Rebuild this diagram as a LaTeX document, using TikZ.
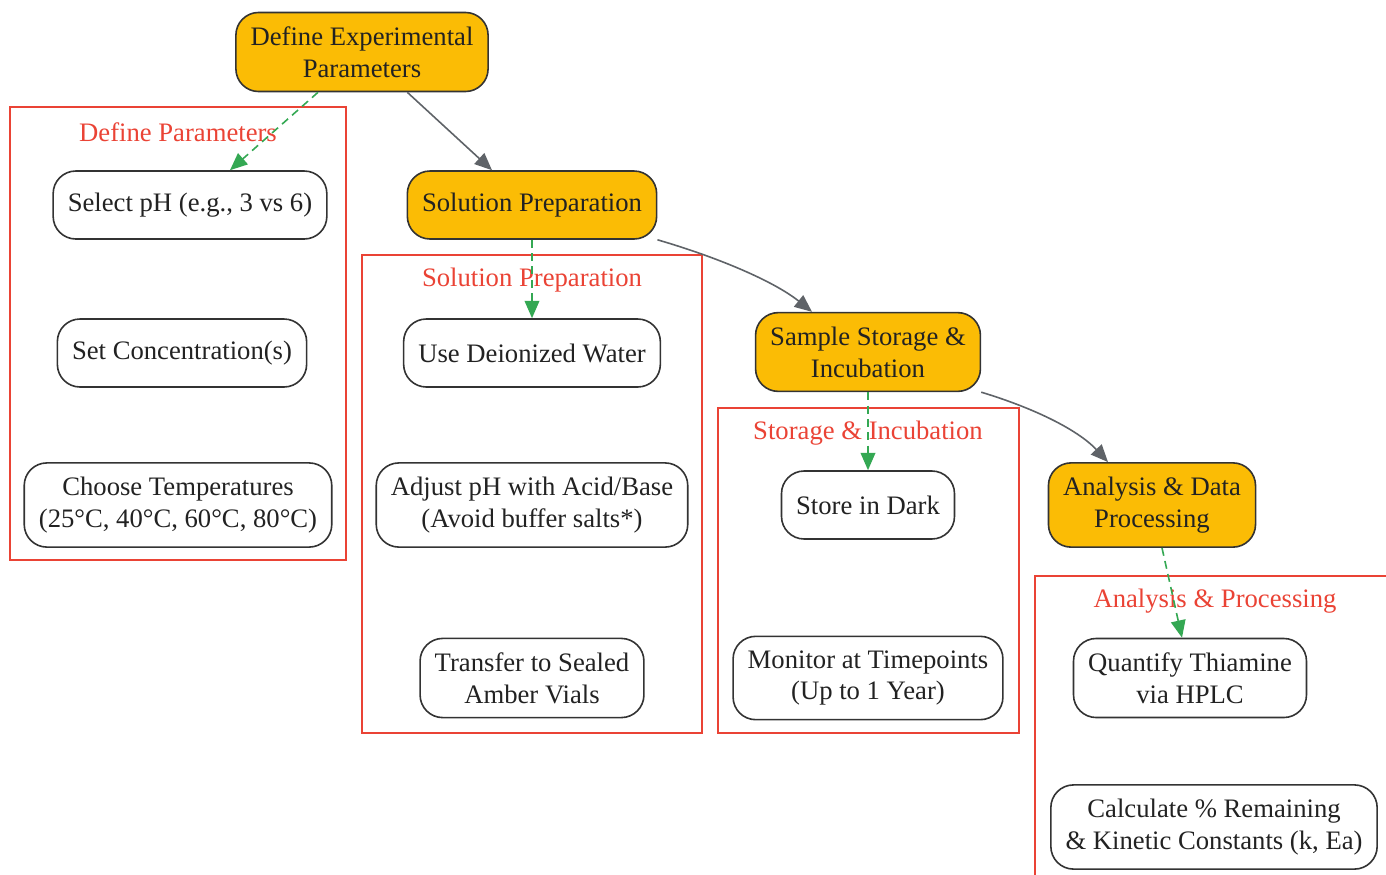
\documentclass[tikz,border=0pt]{standalone}
\usepackage{fontspec}
\setmainfont{Liberation Serif}
\usetikzlibrary{arrows.meta, positioning}
\definecolor{phasefill}{HTML}{FBBC05}
\definecolor{linegray}{HTML}{333333}
\definecolor{textgray}{HTML}{222222}
\definecolor{clusterred}{HTML}{EA4335}
\definecolor{flowgray}{HTML}{5F6368}
\definecolor{detailgreen}{HTML}{34A853}

\begin{document}
\begin{tikzpicture}[x=0.75pt, y=-0.75pt,
  every node/.style={font=\fontsize{20}{24}\selectfont, text=textgray, align=center},
  phase/.style={draw=linegray, line width=1.2pt, fill=phasefill, rounded corners=17pt, minimum height=51pt, inner xsep=11pt, inner ysep=10.5pt},
  stepbox/.style={phase, fill=white},
  cluster/.style={draw=clusterred, line width=1.2pt},
  clusterlabel/.style={text=clusterred},
  flow/.style={draw=flowgray, line width=1.2pt, -{Triangle[length=13pt, width=11pt]}},
  detail/.style={draw=detailgreen, line width=1.2pt, dash pattern=on 6pt off 4pt, -{Triangle[length=13pt, width=11pt]}}]
\useasboundingbox (0,0) rectangle (1386,875);
% Clusters
\draw[cluster] (10,107) rectangle (346,560);
\draw[cluster] (362,255) rectangle (702,733);
\draw[cluster] (718,408) rectangle (1019,733);
\draw[cluster] (1035,880) -- (1035,576) -- (1390,576);
\node[clusterlabel] (defl) at (178,132) {Define Parameters};
\node[clusterlabel] (soll) at (532,280) {Solution Preparation};
\node[clusterlabel] (stol) at (868,433) {Storage \& Incubation};
\node[clusterlabel] (anal) at (1215,601) {Analysis \& Processing};
% Nodes
\node[phase] (define) at (362,52) {Define Experimental\\Parameters};
\node[phase] (solprep) at (532,205) {Solution Preparation};
\node[phase] (storage) at (868,352) {Sample Storage \&\\Incubation};
\node[phase] (analysis) at (1152,505) {Analysis \& Data\\Processing};
\node[stepbox] (selph) at (190,205) {Select pH (e.g., 3 vs 6)};
\node[stepbox] (conc) at (182,353) {Set Concentration(s)};
\node[stepbox] (temps) at (178,505) {Choose Temperatures\\(25°C, 40°C, 60°C, 80°C)};
\node[stepbox] (water) at (532,353) {Use Deionized Water};
\node[stepbox] (adjust) at (532,505) {Adjust pH with Acid/Base\\(Avoid buffer salts*)};
\node[stepbox] (vials) at (532,678) {Transfer to Sealed\\Amber Vials};
\node[stepbox] (dark) at (868,505) {Store in Dark};
\node[stepbox] (monitor) at (868,678) {Monitor at Timepoints\\(Up to 1 Year)};
\node[stepbox] (hplc) at (1190,678) {Quantify Thiamine\\via HPLC};
\node[stepbox] (kinetics) at (1214,827) {Calculate \% Remaining\\\& Kinetic Constants (k, Ea)};
% Arrows
\draw[flow] ([xshift=34pt]define.south) -- ([xshift=-30pt]solprep.north);
\draw[flow] (solprep.south east) .. controls (720,258) and (775,282) .. ([xshift=-42pt]storage.north);
\draw[flow] (storage.south east) .. controls (1040,410) and (1080,432) .. ([xshift=-33pt]analysis.north);
\draw[detail] ([xshift=-33pt]define.south) -- ([xshift=30pt]selph.north);
\draw[detail] (solprep.south) -- (water.north);
\draw[detail] (storage.south) -- (dark.north);
\draw[detail] ([xshift=7.5pt]analysis.south) -- ([xshift=-6pt]hplc.north);
\end{tikzpicture}
\end{document}
